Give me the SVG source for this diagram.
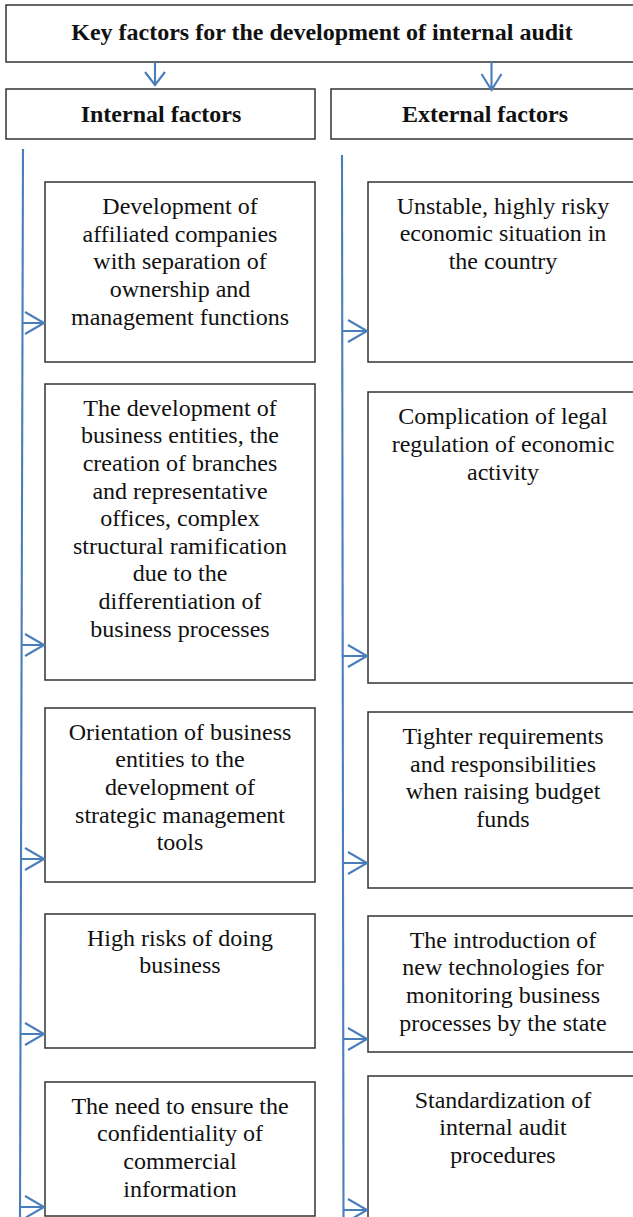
<svg xmlns="http://www.w3.org/2000/svg" width="633" height="1217" viewBox="0 0 633 1217">
<style>
.box{fill:#fff;stroke:#333;stroke-width:1.5}
.t{font-family:"Liberation Serif","Times New Roman",serif;font-size:24px;fill:#111;text-anchor:middle}
.b{font-weight:bold}
.c{fill:none;stroke:#4a7ebb;stroke-width:2.1}
</style>
<rect width="633" height="1217" fill="#fff"/>
<g id="title">
<rect class="box" x="6" y="5" width="632" height="57"/>
<text class="t b" x="322" y="39.5">Key factors for the development of internal audit</text>
</g>
<g id="internal">
<rect class="box" x="6" y="89" width="309" height="50"/>
<text class="t b" x="161" y="121.5">Internal factors</text>
</g>
<g id="external">
<rect class="box" x="331" y="89" width="308" height="50"/>
<text class="t b" x="485" y="121.5">External factors</text>
</g>
<g id="int1">
<rect class="box" x="45" y="182" width="270" height="180"/>
<text class="t" x="180" y="214"><tspan x="180">Development of</tspan><tspan x="180" dy="27.7">affiliated companies</tspan><tspan x="180" dy="27.7">with separation of</tspan><tspan x="180" dy="27.7">ownership and</tspan><tspan x="180" dy="27.7">management functions</tspan></text>
</g>
<g id="int2">
<rect class="box" x="45" y="384" width="270" height="296"/>
<text class="t" x="180" y="415.7"><tspan x="180">The development of</tspan><tspan x="180" dy="27.6">business entities, the</tspan><tspan x="180" dy="27.6">creation of branches</tspan><tspan x="180" dy="27.6">and representative</tspan><tspan x="180" dy="27.6">offices, complex</tspan><tspan x="180" dy="27.6">structural ramification</tspan><tspan x="180" dy="27.6">due to the</tspan><tspan x="180" dy="27.6">differentiation of</tspan><tspan x="180" dy="27.6">business processes</tspan></text>
</g>
<g id="int3">
<rect class="box" x="45" y="708" width="270" height="174"/>
<text class="t" x="180" y="739.5"><tspan x="180">Orientation of business</tspan><tspan x="180" dy="27.7">entities to the</tspan><tspan x="180" dy="27.7">development of</tspan><tspan x="180" dy="27.7">strategic management</tspan><tspan x="180" dy="27.7">tools</tspan></text>
</g>
<g id="int4">
<rect class="box" x="45" y="914" width="270" height="134"/>
<text class="t" x="180" y="945.5"><tspan x="180">High risks of doing</tspan><tspan x="180" dy="27.7">business</tspan></text>
</g>
<g id="int5">
<rect class="box" x="45" y="1082" width="270" height="134"/>
<text class="t" x="180" y="1113.5"><tspan x="180">The need to ensure the</tspan><tspan x="180" dy="27.7">confidentiality of</tspan><tspan x="180" dy="27.7">commercial</tspan><tspan x="180" dy="27.7">information</tspan></text>
</g>
<g id="ext1">
<rect class="box" x="368" y="182" width="270" height="180"/>
<text class="t" x="503" y="213.5"><tspan x="503">Unstable, highly risky</tspan><tspan x="503" dy="27.7">economic situation in</tspan><tspan x="503" dy="27.7">the country</tspan></text>
</g>
<g id="ext2">
<rect class="box" x="368" y="392" width="270" height="291"/>
<text class="t" x="503" y="424.3"><tspan x="503">Complication of legal</tspan><tspan x="503" dy="27.7">regulation of economic</tspan><tspan x="503" dy="27.7">activity</tspan></text>
</g>
<g id="ext3">
<rect class="box" x="368" y="712" width="270" height="176"/>
<text class="t" x="503" y="744"><tspan x="503">Tighter requirements</tspan><tspan x="503" dy="27.7">and responsibilities</tspan><tspan x="503" dy="27.7">when raising budget</tspan><tspan x="503" dy="27.7">funds</tspan></text>
</g>
<g id="ext4">
<rect class="box" x="368" y="916" width="270" height="136"/>
<text class="t" x="503" y="947.7"><tspan x="503">The introduction of</tspan><tspan x="503" dy="27.7">new technologies for</tspan><tspan x="503" dy="27.7">monitoring business</tspan><tspan x="503" dy="27.7">processes by the state</tspan></text>
</g>
<g id="ext5">
<rect class="box" x="368" y="1076" width="270" height="150"/>
<text class="t" x="503" y="1107.7"><tspan x="503">Standardization of</tspan><tspan x="503" dy="27.7">internal audit</tspan><tspan x="503" dy="27.7">procedures</tspan></text>
</g>
<g id="connectors">
<path class="c" d="M155,62 V85 M145,72 L155,85 L165,72"/>
<path class="c" d="M491.5,62 V90 M481.5,74 L491.5,90 L501.5,74"/>
<path class="c" d="M23,149 L20,1217"/>
<path class="c" d="M342,155 L343.5,1217"/>
<path class="c" d="M22.5,323 H44 M25,312 L44,323 L25,334"/>
<path class="c" d="M21.6,645 H44 M25,634 L44,645 L25,656"/>
<path class="c" d="M21,859 H44 M25,848 L44,859 L25,870"/>
<path class="c" d="M20.5,1034 H44 M25,1023 L44,1034 L25,1045"/>
<path class="c" d="M20.1,1207 H44 M25,1196 L44,1207 L25,1218"/>
<path class="c" d="M342.3,331 H367 M348,320 L367,331 L348,342"/>
<path class="c" d="M342.7,656 H367 M348,645 L367,656 L348,667"/>
<path class="c" d="M343,863 H367 M348,852 L367,863 L348,874"/>
<path class="c" d="M343.2,1039 H367 M348,1028 L367,1039 L348,1050"/>
<path class="c" d="M343.5,1210 H367 M348,1199 L367,1210 L348,1221"/>
</g>
</svg>
